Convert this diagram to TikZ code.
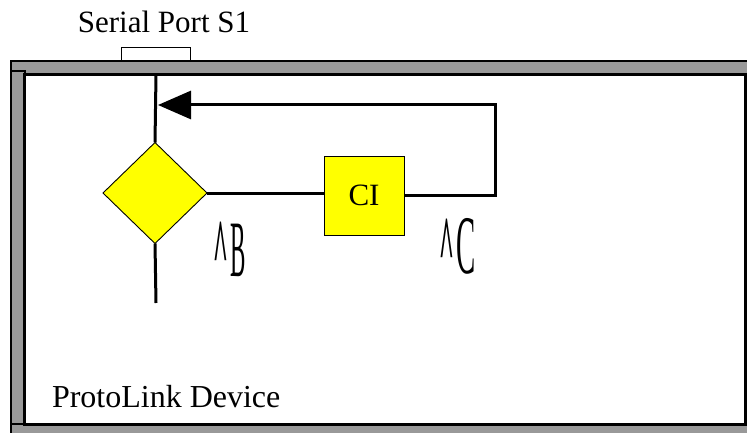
\documentclass[tikz,border=0pt]{standalone}
\usepackage{fontspec}
\setmainfont{Liberation Serif}
\usetikzlibrary{shapes.geometric,arrows.meta}
\definecolor{framegray}{RGB}{153,153,153}
\definecolor{boxyellow}{RGB}{255,255,0}
\tikzset{
  conn/.style={line width=3pt, draw=black, line join=miter},
  framebar/.style={fill=framegray, draw=black, line width=2pt},
  yellowshape/.style={fill=boxyellow, draw=black, line width=0.9pt, inner sep=0pt, outer sep=0pt},
  lbl/.style={inner sep=0pt, outer sep=0pt, font=\fontsize{31}{31}\selectfont},
  tall/.style={inner sep=0pt, outer sep=0pt, anchor=base west}
}
\newcommand{\tallchar}[3]{\scalebox{#1}[#2]{\fontsize{32}{32}\selectfont #3}}
\begin{document}
\begin{tikzpicture}[x=1pt,y=-1pt]
\useasboundingbox (0,0) rectangle (747,433);
% device frame
\path[framebar] (11,61) rectangle (750,76);
\path[framebar] (11,71) rectangle (25,440);
\path[framebar] (11,424) rectangle (750,440);
\filldraw[fill=white, draw=black, line width=3pt] (24.5,75) rectangle (745,424);
% serial port
\node[draw=black, line width=0.8pt, minimum width=69pt, minimum height=14pt, inner sep=0pt] (port) at (155.5,54) {};
\node[lbl, anchor=base] (portlbl) at (164,33) {Serial Port S1};
\node[lbl, anchor=base west, font=\fontsize{32}{32}\selectfont] (devlbl) at (52,407) {ProtoLink Device};
% shapes
\node[yellowshape, diamond, minimum width=104pt, minimum height=101pt] (dia) at (155,193) {};
\node[yellowshape, rectangle, minimum width=80pt, minimum height=79pt, font=\fontsize{31}{31}\selectfont] (ci) at (364,195.5) {CI};
% coordinates
\coordinate (ptop) at (156,75);
\coordinate (pbot) at (156,303);
\coordinate (rtop) at (495,105);
\coordinate (tip) at (158,105);
% connectors
\draw[conn] (ptop) -- (dia.north);
\draw[conn] (dia.south) -- (pbot);
\draw[conn] (dia.east) -- (dia.east -| ci.west);
\draw[conn, -{Triangle[length=33pt, width=28pt]}] (ci.east) -| (rtop) -- (tip);
% labels
\node[tall] (lb) at (213,276) {\tallchar{0.8}{2.6}{\bfseries\textasciicircum}\kern3pt\tallchar{0.72}{2.5}{B}};
\node[tall] (lc) at (439,273) {\tallchar{0.8}{2.6}{\bfseries\textasciicircum}\kern3pt\tallchar{0.9}{2.6}{C}};
\end{tikzpicture}
\end{document}
